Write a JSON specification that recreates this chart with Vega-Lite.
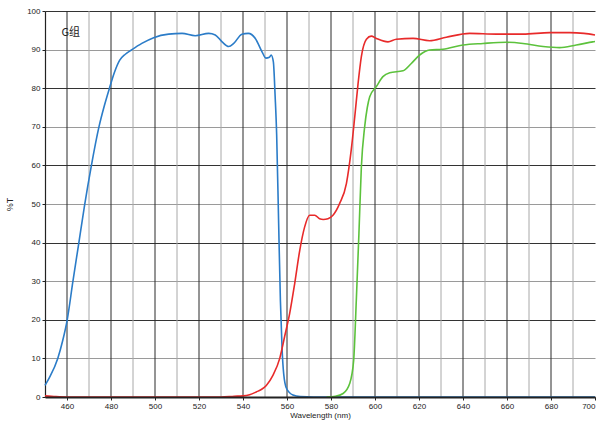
{
  "$schema": "https://vega.github.io/schema/vega-lite/v6.json",
  "width": 550,
  "height": 386,
  "autosize": "none",
  "padding": {"left": 45, "top": 11, "right": 19, "bottom": 31},
  "background": "white",
  "config": {
    "view": {"stroke": null},
    "font": "Liberation Sans",
    "axis": {"labelFont": "Liberation Sans", "titleFont": "Liberation Sans", "labelFontSize": 8, "titleFontSize": 8, "titleFontWeight": "normal", "labelColor": "#222", "titleColor": "#222", "domainColor": "#222", "tickColor": "#222"}
  },
  "datasets": {
    "vgrid": [
      {"nm": 460, "kind": "major"}, {"nm": 480, "kind": "major"}, {"nm": 500, "kind": "major"}, {"nm": 520, "kind": "major"}, {"nm": 540, "kind": "major"}, {"nm": 560, "kind": "major"}, {"nm": 580, "kind": "major"}, {"nm": 600, "kind": "major"}, {"nm": 620, "kind": "major"}, {"nm": 640, "kind": "major"}, {"nm": 660, "kind": "major"}, {"nm": 680, "kind": "major"},
      {"nm": 470, "kind": "minor"}, {"nm": 490, "kind": "minor"}, {"nm": 510, "kind": "minor"}, {"nm": 530, "kind": "minor"}, {"nm": 550, "kind": "minor"}, {"nm": 570, "kind": "minor"}, {"nm": 590, "kind": "minor"}, {"nm": 610, "kind": "minor"}, {"nm": 630, "kind": "minor"}, {"nm": 650, "kind": "minor"}, {"nm": 670, "kind": "minor"}, {"nm": 690, "kind": "minor"}
    ],
    "curves": [
      {"s": "B", "nm": 450, "T": 3.0}, {"s": "B", "nm": 452, "T": 5}, {"s": "B", "nm": 455.8, "T": 10}, {"s": "B", "nm": 458, "T": 14.5}, {"s": "B", "nm": 460.1, "T": 20}, {"s": "B", "nm": 462.7, "T": 30}, {"s": "B", "nm": 465.4, "T": 40}, {"s": "B", "nm": 468, "T": 49.7}, {"s": "B", "nm": 471, "T": 59.7}, {"s": "B", "nm": 474.5, "T": 69.9}, {"s": "B", "nm": 477, "T": 75.5}, {"s": "B", "nm": 479.3, "T": 80}, {"s": "B", "nm": 481.5, "T": 84}, {"s": "B", "nm": 483.9, "T": 87.2}, {"s": "B", "nm": 486.5, "T": 88.8}, {"s": "B", "nm": 489.3, "T": 89.9}, {"s": "B", "nm": 494, "T": 91.6}, {"s": "B", "nm": 499.4, "T": 93.1}, {"s": "B", "nm": 506.2, "T": 94.0}, {"s": "B", "nm": 512.3, "T": 94.2}, {"s": "B", "nm": 518.3, "T": 93.6}, {"s": "B", "nm": 524.4, "T": 94.2}, {"s": "B", "nm": 527.4, "T": 93.8}, {"s": "B", "nm": 530.5, "T": 92.0}, {"s": "B", "nm": 533.5, "T": 90.8}, {"s": "B", "nm": 535.8, "T": 91.6}, {"s": "B", "nm": 539.5, "T": 94.0}, {"s": "B", "nm": 542.4, "T": 94.2}, {"s": "B", "nm": 545.6, "T": 92.9}, {"s": "B", "nm": 548.6, "T": 89.5}, {"s": "B", "nm": 550.4, "T": 87.8}, {"s": "B", "nm": 552.0, "T": 88.0}, {"s": "B", "nm": 552.8, "T": 88.6}, {"s": "B", "nm": 553.8, "T": 86.8}, {"s": "B", "nm": 554.6, "T": 78}, {"s": "B", "nm": 555.3, "T": 68}, {"s": "B", "nm": 556.2, "T": 45}, {"s": "B", "nm": 557.0, "T": 25}, {"s": "B", "nm": 557.8, "T": 12}, {"s": "B", "nm": 558.5, "T": 6}, {"s": "B", "nm": 559.8, "T": 2.2}, {"s": "B", "nm": 562.7, "T": 0.5}, {"s": "B", "nm": 566, "T": 0.1}, {"s": "B", "nm": 572, "T": 0}, {"s": "B", "nm": 700, "T": 0},
      {"s": "R", "nm": 450, "T": 0.3}, {"s": "R", "nm": 455, "T": 0.1}, {"s": "R", "nm": 460, "T": 0}, {"s": "R", "nm": 530, "T": 0}, {"s": "R", "nm": 536, "T": 0.2}, {"s": "R", "nm": 540, "T": 0.3}, {"s": "R", "nm": 543, "T": 0.6}, {"s": "R", "nm": 546, "T": 1.3}, {"s": "R", "nm": 548.5, "T": 2.0}, {"s": "R", "nm": 550.6, "T": 3}, {"s": "R", "nm": 553.6, "T": 5.6}, {"s": "R", "nm": 556.7, "T": 10}, {"s": "R", "nm": 558.9, "T": 15.6}, {"s": "R", "nm": 561.2, "T": 21.6}, {"s": "R", "nm": 563.5, "T": 29.4}, {"s": "R", "nm": 565.8, "T": 38}, {"s": "R", "nm": 568, "T": 44}, {"s": "R", "nm": 570.3, "T": 47.1}, {"s": "R", "nm": 572.6, "T": 47.1}, {"s": "R", "nm": 574.8, "T": 46.2}, {"s": "R", "nm": 576.5, "T": 46}, {"s": "R", "nm": 578.6, "T": 46.2}, {"s": "R", "nm": 580.9, "T": 47.1}, {"s": "R", "nm": 583.9, "T": 50.1}, {"s": "R", "nm": 587, "T": 55.3}, {"s": "R", "nm": 589.2, "T": 64}, {"s": "R", "nm": 590.8, "T": 72.6}, {"s": "R", "nm": 592.3, "T": 81.2}, {"s": "R", "nm": 593.8, "T": 88.2}, {"s": "R", "nm": 596.1, "T": 92.7}, {"s": "R", "nm": 598.3, "T": 93.5}, {"s": "R", "nm": 600.6, "T": 92.9}, {"s": "R", "nm": 605.9, "T": 92.0}, {"s": "R", "nm": 609.7, "T": 92.7}, {"s": "R", "nm": 617.3, "T": 92.9}, {"s": "R", "nm": 624.8, "T": 92.3}, {"s": "R", "nm": 632.4, "T": 93.2}, {"s": "R", "nm": 643, "T": 94.2}, {"s": "R", "nm": 655.2, "T": 94.0}, {"s": "R", "nm": 667.3, "T": 94.0}, {"s": "R", "nm": 679.4, "T": 94.4}, {"s": "R", "nm": 688.5, "T": 94.4}, {"s": "R", "nm": 695, "T": 94.2}, {"s": "R", "nm": 700, "T": 93.8},
      {"s": "G", "nm": 578, "T": 0}, {"s": "G", "nm": 582, "T": 0.2}, {"s": "G", "nm": 585.5, "T": 0.9}, {"s": "G", "nm": 588.5, "T": 3.5}, {"s": "G", "nm": 590.3, "T": 9.5}, {"s": "G", "nm": 591.5, "T": 25}, {"s": "G", "nm": 592.7, "T": 42.4}, {"s": "G", "nm": 593.8, "T": 59.6}, {"s": "G", "nm": 595.3, "T": 70}, {"s": "G", "nm": 596.5, "T": 75}, {"s": "G", "nm": 597.6, "T": 77.8}, {"s": "G", "nm": 600.6, "T": 80.4}, {"s": "G", "nm": 603.6, "T": 83}, {"s": "G", "nm": 606.7, "T": 84}, {"s": "G", "nm": 612.7, "T": 84.5}, {"s": "G", "nm": 616.5, "T": 86.4}, {"s": "G", "nm": 620.3, "T": 88.6}, {"s": "G", "nm": 624.8, "T": 89.9}, {"s": "G", "nm": 630.9, "T": 90.1}, {"s": "G", "nm": 640, "T": 91.2}, {"s": "G", "nm": 649.1, "T": 91.6}, {"s": "G", "nm": 659.7, "T": 91.9}, {"s": "G", "nm": 667.3, "T": 91.6}, {"s": "G", "nm": 676.4, "T": 90.8}, {"s": "G", "nm": 683.9, "T": 90.5}, {"s": "G", "nm": 691.5, "T": 91.2}, {"s": "G", "nm": 699, "T": 92.0}, {"s": "G", "nm": 700, "T": 92.1}
    ],
    "label": [{"nm": 457.5, "T": 94.4, "text": "G组"}]
  },
  "layer": [
    {
      "data": {"name": "vgrid"},
      "transform": [{"filter": "datum.kind === 'minor'"}],
      "mark": {"type": "rule", "color": "#a8a8a8", "strokeWidth": 1},
      "encoding": {
        "x": {"field": "nm", "type": "quantitative", "scale": {"domain": [450, 700], "nice": false, "zero": false},
          "axis": {"values": [460, 480, 500, 520, 540, 560, 580, 600, 620, 640, 660, 680, 700], "grid": false, "title": "Wavelength (nm)", "tickSize": 3, "labelPadding": 2, "titlePadding": 1, "domainWidth": 1.8, "zindex": 1}}
      }
    },
    {
      "data": {"name": "vgrid"},
      "transform": [{"filter": "datum.kind === 'major'"}],
      "mark": {"type": "rule", "color": "#2a2a2a", "strokeWidth": 1},
      "encoding": {
        "x": {"field": "nm", "type": "quantitative"}
      }
    },
    {
      "data": {"name": "curves"},
      "mark": {"type": "line", "strokeWidth": 1.6, "interpolate": "monotone"},
      "encoding": {
        "x": {"field": "nm", "type": "quantitative"},
        "y": {"field": "T", "type": "quantitative", "scale": {"domain": [0, 100], "nice": false},
          "axis": {"values": [0, 10, 20, 30, 40, 50, 60, 70, 80, 90, 100], "labelOverlap": false, "grid": true, "gridColor": {"condition": {"test": "datum.value % 20 === 0", "value": "#333333"}, "value": "#9a9a9a"}, "gridWidth": 1, "title": "%T", "titleFontSize": 9, "tickSize": 3, "labelPadding": 2, "titlePadding": 12, "domainWidth": 1.2}},
        "color": {"field": "s", "type": "nominal", "scale": {"domain": ["B", "R", "G"], "range": ["#2b7cc8", "#e82a2a", "#5cc23c"]}, "legend": null}
      }
    },
    {
      "data": {"name": "label"},
      "mark": {"type": "text", "align": "left", "baseline": "middle", "font": "Noto Sans CJK SC", "fontSize": 11, "color": "#222"},
      "encoding": {
        "x": {"field": "nm", "type": "quantitative"},
        "y": {"field": "T", "type": "quantitative",
          "axis": {"values": [0, 10, 20, 30, 40, 50, 60, 70, 80, 90, 100], "labelOverlap": false, "grid": true, "gridColor": {"condition": {"test": "datum.value % 20 === 0", "value": "#333333"}, "value": "#9a9a9a"}, "gridWidth": 1, "title": "%T", "titleFontSize": 9, "tickSize": 3, "labelPadding": 2, "titlePadding": 12, "domainWidth": 1.2}},
        "text": {"field": "text"}
      }
    }
  ]
}
